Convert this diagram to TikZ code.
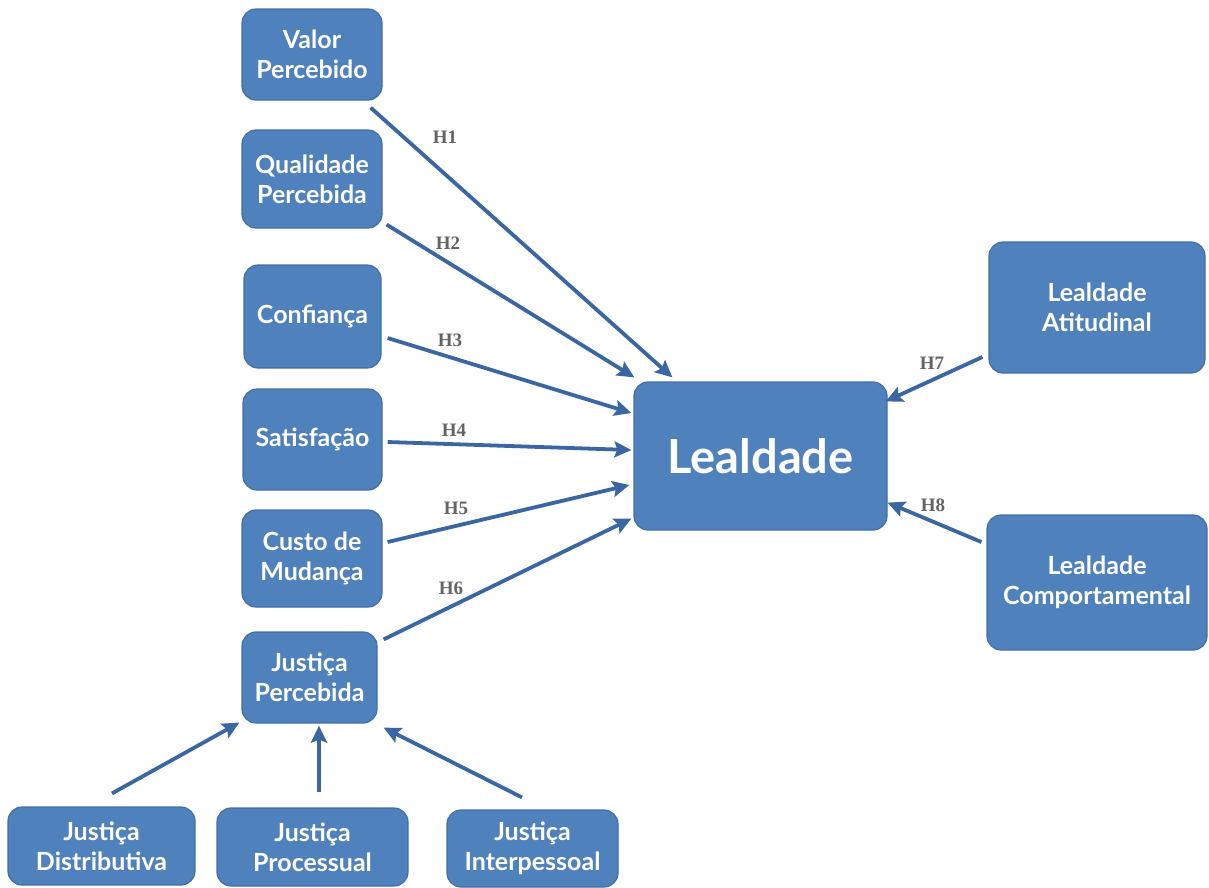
\documentclass[tikz,border=0pt]{standalone}
\usepackage{fontspec}
\setmainfont{Lato}
\newfontfamily\hfont{Liberation Serif}
\usetikzlibrary{arrows.meta}
\definecolor{boxfill}{RGB}{79,129,189}
\definecolor{boxedge}{RGB}{66,112,165}
\definecolor{arrowc}{RGB}{58,103,163}
\definecolor{labc}{RGB}{100,100,100}
\tikzset{
  box/.style={rectangle, rounded corners=14pt, fill=boxfill, draw=boxedge, line width=1.2pt,
    text=white, align=center, inner sep=0pt, font=\bfseries\fontsize{25}{30}\selectfont},
  conn/.style={draw=arrowc, line width=3.8pt, -{Stealth[length=17pt,width=16pt,inset=3pt]}},
  hlab/.style={text=labc, font=\hfont\bfseries\fontsize{19}{19}\selectfont, inner sep=0pt}
}
\begin{document}
\begin{tikzpicture}[x=1pt,y=-1pt]
\useasboundingbox (0,0) rectangle (1209,887);
% nodes
\node[box, minimum width=140pt, minimum height=91pt] (v) at (312,54.5) {Valor\\Percebido};
\node[box, minimum width=140pt, minimum height=98pt] (q) at (312,179) {Qualidade\\Percebida};
\node[box, minimum width=137pt, minimum height=103pt] (c) at (312.5,316.5) {Confiança};
\node[box, minimum width=139pt, minimum height=101pt] (s) at (312.5,439.5) {Satisfação};
\node[box, minimum width=140pt, minimum height=97pt] (m) at (312,558.5) {Custo de\\Mudança};
\node[box, minimum width=135pt, minimum height=91pt] (jp) at (309.5,677.5) {Justiça\\Percebida};
\node[box, minimum width=187pt, minimum height=78pt] (jd) at (101.5,846) {Justiça\\Distributiva};
\node[box, minimum width=191pt, minimum height=78pt] (jpr) at (312.5,847) {Justiça\\Processual};
\node[box, minimum width=171pt, minimum height=77pt] (ji) at (532.5,848.5) {Justiça\\Interpessoal};
\node[box, minimum width=253pt, minimum height=148pt, font=\bfseries\fontsize{47}{50}\selectfont] (L) at (760.5,456) {Lealdade};
\node[box, minimum width=216pt, minimum height=131pt] (la) at (1097,307.5) {Lealdade\\Atitudinal};
\node[box, minimum width=220pt, minimum height=135pt] (lc) at (1097,582.5) {Lealdade\\Comportamental};
% connectors
\draw[conn] ([shift={(-12,7)}]v.south east) -- ([shift={(39,-4)}]L.north west);
\draw[conn] ([shift={(4,-4)}]q.south east) -- ([shift={(1,-4)}]L.north west);
\draw[conn] ([shift={(6,21.5)}]c.east) -- ([shift={(-2,-43)}]L.west);
\draw[conn] ([shift={(5,2.5)}]s.east) -- ([shift={(-2,-6)}]L.west);
\draw[conn] ([shift={(5,-16.5)}]m.east) -- ([shift={(-4,29)}]L.west);
\draw[conn] ([shift={(6,8)}]jp.north east) -- ([shift={(-2,-12)}]L.south west);
\draw[conn] ([shift={(-6,49.5)}]la.west) -- ([shift={(-2,20)}]L.north east);
\draw[conn] ([shift={(-5,-40.5)}]lc.west) -- ([shift={(0,-28)}]L.south east);
\draw[conn] ([shift={(10.5,-13)}]jd.north) -- ([shift={(-2,-1)}]jp.south west);
\draw[conn] ([shift={(6.5,-15)}]jpr.north) -- ([shift={(9.5,2)}]jp.south);
\draw[conn] ([shift={(-10.5,-12)}]ji.north) -- ([shift={(6,4)}]jp.south east);
% labels
\node[hlab] (h1) at (445,137) {H1};
\node[hlab] (h2) at (448,243) {H2};
\node[hlab] (h3) at (450,340) {H3};
\node[hlab] (h4) at (454,430) {H4};
\node[hlab] (h5) at (456,508) {H5};
\node[hlab] (h6) at (451,588) {H6};
\node[hlab] (h7) at (932,363) {H7};
\node[hlab] (h8) at (933,505) {H8};
\end{tikzpicture}
\end{document}
